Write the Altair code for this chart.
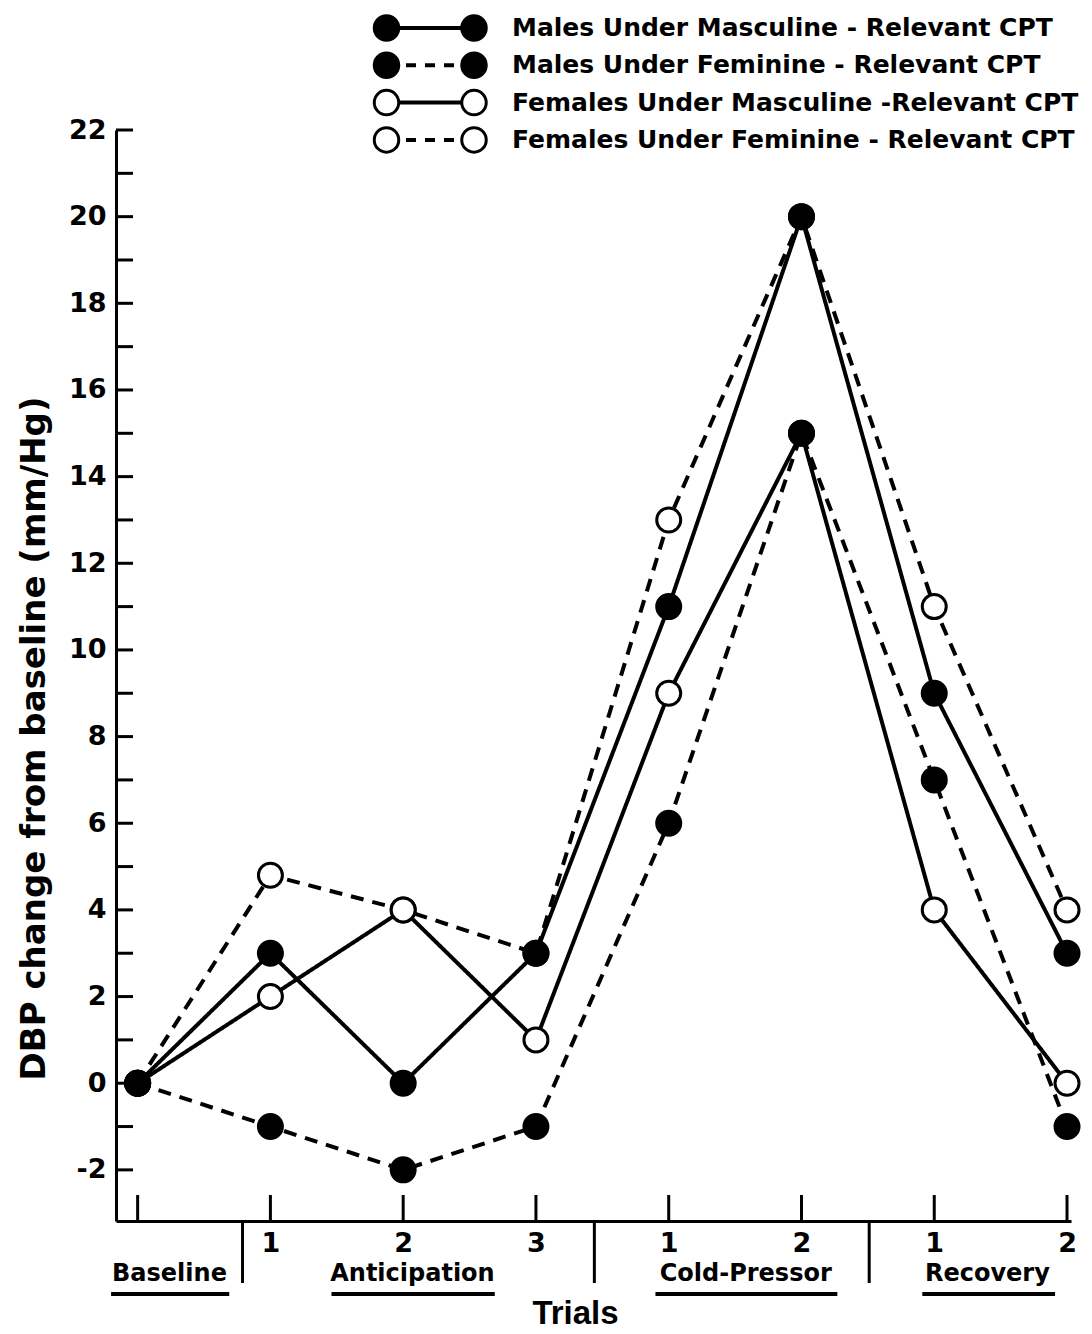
import json
import altair as alt
import pandas as pd

# ---------------- data ----------------
trials = [0, 1, 2, 3, 4, 5, 6, 7]
trial_labels = ["", "1", "2", "3", "1", "2", "1", "2"]

series_names = [
    "Males Under Masculine - Relevant CPT",
    "Males Under Feminine - Relevant CPT",
    "Females Under Masculine -Relevant CPT",
    "Females Under Feminine - Relevant CPT",
]
series_filled = [True, True, False, False]
series_dashed = [False, True, False, True]
males_masc = [0, 3, 0, 3, 11, 20, 9, 3]
males_fem = [0, -1, -2, -1, 6, 15, 7, -1]
females_masc = [0, 2, 4, 1, 9, 15, 4, 0]
females_fem = [0, 4.8, 4, 3, 13, 20, 11, 4]

group_names = ["Baseline", "Anticipation", "Cold-Pressor", "Recovery"]
group_center = [0.24, 2.07, 4.58, 6.40]
group_start = [-0.20, 1.46, 3.90, 5.91]
group_end = [0.69, 2.69, 5.27, 6.91]
dividers = [0.79, 3.44, 5.51]

y_label_values = list(range(-2, 23, 2))
y_tick_values = list(range(-2, 23))

# ---------------- layout ----------------
W, H = 955, 1091
X_DOMAIN = [-0.163, 7.03]
Y_DOMAIN = [-3.18, 22]
BOLD_FONT = "DejaVu Sans"
DASH = [13, 9]

xs = alt.Scale(domain=X_DOMAIN, nice=False, zero=False)
ys = alt.Scale(domain=Y_DOMAIN, nice=False, zero=False)

label_expr = json.dumps(trial_labels) + "[round(datum.value)]"
x_axis = alt.Axis(values=trials[1:], labelExpr=label_expr, tickSize=0,
                  labelPadding=9, labelFont=BOLD_FONT, labelFontWeight="bold",
                  labelFontSize=27, labelFlush=False, labelOverlap=False,
                  domainWidth=3, domainColor="black", grid=False,
                  title="Trials", titleFont="Liberation Sans",
                  titleFontWeight="bold", titleFontSize=33,
                  titleX=459, titleY=92, titleBaseline="middle")
y_axis = alt.Axis(values=y_label_values, tickSize=0, labelPadding=10,
                  labelFont=BOLD_FONT, labelFontWeight="bold", labelFontSize=27,
                  labelFlush=False, labelOverlap=False, grid=False,
                  labelExpr="replace(datum.label, '\u2212', '-')",
                  domainWidth=3, domainColor="black",
                  title="DBP change from baseline (mm/Hg)",
                  titleFont=BOLD_FONT, titleFontWeight="bold", titleFontSize=34,
                  titleAngle=270, titleX=-82, titleY=608,
                  titleAlign="center", titleBaseline="middle")


def X(field):
    return alt.X(field, type="quantitative", scale=xs, axis=x_axis)


def Y(field):
    return alt.Y(field, type="quantitative", scale=ys, axis=y_axis)


series_values = [males_masc, males_fem, females_masc, females_fem]
rows = []
for idx in range(4):
    for t, v in zip(trials, series_values[idx]):
        rows.append({"series": series_names[idx], "x": t, "y": v,
                     "male": series_filled[idx]})
df = pd.DataFrame(rows)

dash_scale = alt.Scale(domain=series_names,
                       range=[DASH if d else [1, 0] for d in series_dashed])

lines = alt.Chart(df).mark_line(color="black", strokeWidth=4).encode(
    x=X("x"), y=Y("y"),
    strokeDash=alt.StrokeDash("series:N", scale=dash_scale, legend=None),
    detail="series:N",
)

open_pts = alt.Chart(df).transform_filter("!datum.male").mark_point(
    shape="circle", size=576, strokeWidth=3, stroke="black", fill="white",
    filled=True, opacity=1).encode(x=X("x"), y=Y("y"))
filled_pts = alt.Chart(df).transform_filter("datum.male").mark_point(
    shape="circle", size=576, strokeWidth=3, stroke="black", fill="black",
    filled=True, opacity=1).encode(x=X("x"), y=Y("y"))

ytick_df = pd.DataFrame({"y": y_tick_values})
yticks = alt.Chart(ytick_df).mark_rule(color="black", strokeWidth=3).encode(
    y=Y("y"), x=alt.value(0), x2=alt.value(17),
)

xtick_df = pd.DataFrame({"x": trials})
xticks = alt.Chart(xtick_df).mark_rule(color="black", strokeWidth=3).encode(
    x=X("x"), y=alt.value(H), y2=alt.value(H - 26),
)

div_df = pd.DataFrame({"x": dividers})
divs = alt.Chart(div_df).mark_rule(color="black", strokeWidth=3).encode(
    x=X("x"), y=alt.value(H), y2=alt.value(H + 62),
)

grp_df = pd.DataFrame({"name": group_names, "x": group_center,
                       "start": group_start, "end": group_end})
grp_text = alt.Chart(grp_df).mark_text(font=BOLD_FONT, fontWeight="bold", fontSize=24,
                                       color="black", baseline="alphabetic",
                                       align="center").encode(
    x=X("x"), y=alt.value(H + 60), text="name:N",
)
underline = alt.Chart(grp_df).mark_rule(color="black", strokeWidth=4).encode(
    x=X("start"), x2="end", y=alt.value(H + 73),
)

# ---------------- legend (key drawn in the top margin) ----------------
LEG_LEFT, LEG_RIGHT = 270.5, 358      # centres of the two key markers
LEG_TEXT = 396
LEG_TOP, LEG_STEP = -102, 37.3
legend_layers = []
for i, name in enumerate(series_names):
    row = pd.DataFrame({"series": [name]})
    yr = LEG_TOP + i * LEG_STEP
    if series_dashed[i]:
        seg = alt.Chart(row).mark_rule(color="black", strokeWidth=4,
                                       strokeDash=[10, 9]).encode(
            x=alt.value(290), x2=alt.value(338), y=alt.value(yr))
    else:
        seg = alt.Chart(row).mark_rule(color="black", strokeWidth=4).encode(
            x=alt.value(LEG_LEFT), x2=alt.value(LEG_RIGHT), y=alt.value(yr))
    legend_layers.append(seg)
    for cx in (LEG_LEFT, LEG_RIGHT):
        legend_layers.append(alt.Chart(row).mark_point(
            shape="circle", size=600, strokeWidth=3, stroke="black",
            fill="black" if series_filled[i] else "white",
            filled=True, opacity=1).encode(x=alt.value(cx), y=alt.value(yr)))
    legend_layers.append(alt.Chart(row).mark_text(
        font=BOLD_FONT, fontWeight="bold", fontSize=25, color="black",
        align="left", baseline="middle").encode(
        x=alt.value(LEG_TEXT), y=alt.value(yr), text="series:N"))

chart = alt.layer(
    lines, yticks, xticks, divs, grp_text, underline, open_pts, filled_pts,
    *legend_layers
).properties(
    width=W, height=H,
    autosize=alt.AutoSizeParams(type="none"),
    padding={"left": 108, "top": 122, "right": 13, "bottom": 112},
    background="white",
).configure_view(stroke=None)

chart.save("out.html", embed_options={"renderer": "svg", "actions": False})
